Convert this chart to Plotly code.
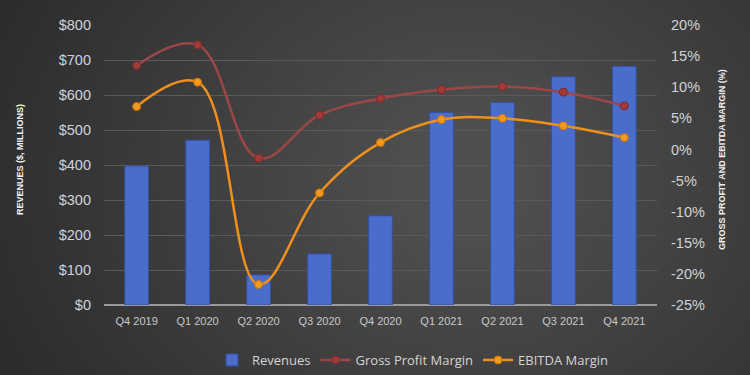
import plotly.graph_objects as go

quarters = ["Q4 2019", "Q1 2020", "Q2 2020", "Q3 2020", "Q4 2020",
            "Q1 2021", "Q2 2021", "Q3 2021", "Q4 2021"]
revenues = [397, 471, 86, 146, 255, 550, 579, 652, 682]
gross_margin = [13.5, 16.8, -1.4, 5.5, 8.2, 9.6, 10.1, 9.2, 7.0]
ebitda_margin = [6.9, 10.8, -21.7, -7.0, 1.1, 4.8, 5.0, 3.8, 1.9]

left_ticks = [0, 100, 200, 300, 400, 500, 600, 700, 800]
right_ticks = [-25, -20, -15, -10, -5, 0, 5, 10, 15, 20]

fig = go.Figure()

fig.add_trace(go.Bar(
    x=quarters, y=revenues, name="Revenues",
    marker=dict(color="#4a6cca", line=dict(color="#34509e", width=1)),
    width=0.39, yaxis="y",
))
fig.add_trace(go.Scatter(
    x=quarters, y=gross_margin, name="Gross Profit Margin",
    mode="lines+markers", yaxis="y2",
    line=dict(color="#9c4646", width=2.5, shape="spline", smoothing=1.1),
    marker=dict(color="#a33a3a", size=8, line=dict(color="#7a2a2a", width=1)),
))
fig.add_trace(go.Scatter(
    x=quarters, y=ebitda_margin, name="EBITDA Margin",
    mode="lines+markers", yaxis="y2",
    line=dict(color="#f0901c", width=2.5, shape="spline", smoothing=1.1),
    marker=dict(color="#f39a1e", size=8, line=dict(color="#c87010", width=1)),
))

# background radial-like gradient approximation
shapes = []
n = 40
for i in range(n):
    f = i / n
    shapes.append(dict(
        type="circle", xref="paper", yref="paper", layer="below",
        x0=-0.40 + 0.95 * f, x1=1.70 - 0.95 * f,
        y0=-1.2 + 1.45 * f, y1=2.1 - 1.45 * f,
        fillcolor="rgba(255,255,255,0.0075)", line=dict(width=0),
    ))

tick_font = dict(family="Liberation Sans, Arial, sans-serif", size=14.5, color="#cfd3d8")

fig.update_layout(
    width=750, height=375,
    margin=dict(l=104, r=93, t=25, b=70, autoexpand=False),
    paper_bgcolor="#262626",
    plot_bgcolor="rgba(0,0,0,0)",
    shapes=shapes,
    showlegend=True,
    legend=dict(
        orientation="h", xref="container", yref="container",
        x=413 / 750, y=1 - 360 / 375, xanchor="center", yanchor="middle",
        font=dict(family="Open Sans, Liberation Sans, sans-serif", size=13, color="#d4d4d4"),
        bgcolor="rgba(0,0,0,0)", itemwidth=30,
    ),
    xaxis=dict(
        tickfont=dict(family="Liberation Sans, Arial, sans-serif", size=11, color="#c8c8c8"),
        showgrid=False, showline=False, zeroline=False, ticks="",
        ticklabelstandoff=8,
    ),
    yaxis=dict(
        range=[0, 800], tickvals=left_ticks,
        ticktext=[f"${v}" for v in left_ticks],
        tickfont=tick_font, gridcolor="#5a5a5a", gridwidth=1,
        zeroline=True, zerolinecolor="#9a9a9a", zerolinewidth=1.5,
        showline=False, ticks="", ticklabelstandoff=12,
    ),
    yaxis2=dict(
        range=[-25, 20], tickvals=right_ticks,
        ticktext=[f"{v}%" for v in right_ticks],
        tickfont=tick_font, overlaying="y", side="right",
        showgrid=False, zeroline=False, showline=False, ticks="",
        ticklabelstandoff=13,
    ),
    annotations=[
        dict(text="<b>REVENUES ($, MILLIONS)</b>", textangle=-90,
             xref="paper", yref="paper", x=(20 - 104) / 553, y=(305 - 160) / 280,
             xanchor="center", yanchor="middle", showarrow=False,
             font=dict(family="Liberation Sans, Arial, sans-serif", size=9, color="#f0f0f0")),
        dict(text="<b>GROSS PROFIT AND EBITDA MARGIN (%)</b>", textangle=-90,
             xref="paper", yref="paper", x=(722 - 104) / 553, y=(305 - 160) / 280,
             xanchor="center", yanchor="middle", showarrow=False,
             font=dict(family="Liberation Sans, Arial, sans-serif", size=9, color="#f0f0f0")),
    ],
)

fig.write_html("out.html", config={"displayModeBar": False})

with open("out.html", "r", encoding="utf-8") as fh:
    html = fh.read()
html = html.replace("<body>", '<body style="margin:0;padding:0;background:#262626;overflow:hidden">', 1)
with open("out.html", "w", encoding="utf-8") as fh:
    fh.write(html)
